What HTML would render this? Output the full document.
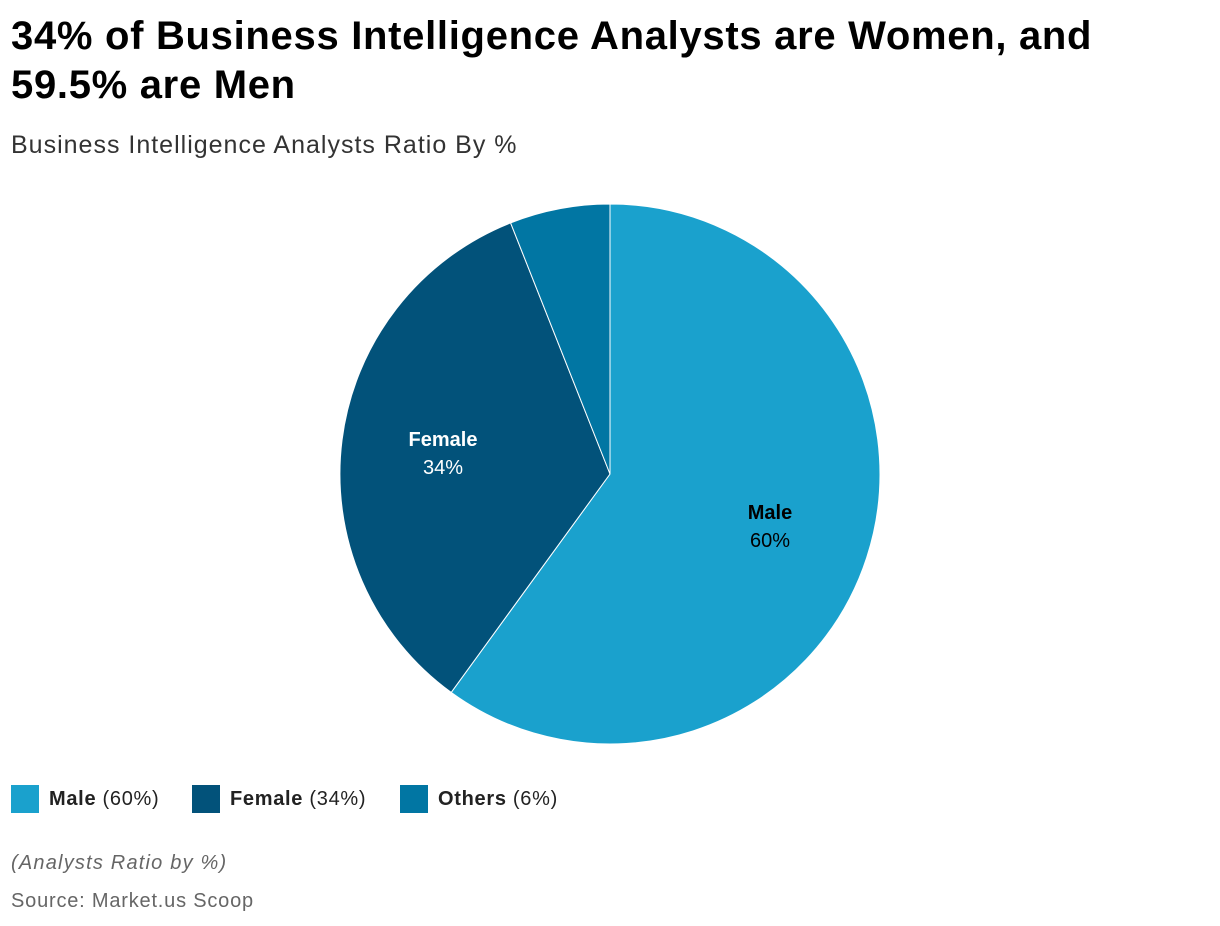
<!DOCTYPE html>
<html><head><style>
body{margin:0;background:#fff;width:1220px;height:926px;overflow:hidden;font-family:"Liberation Sans",Arial,sans-serif;position:relative}
.t{position:absolute;left:11px;top:12px;font-size:40px;font-weight:bold;line-height:49px;color:#000;letter-spacing:0.7px;white-space:nowrap}
.s{position:absolute;left:11px;top:131px;font-size:25px;color:#333;letter-spacing:1px}
.lg{position:absolute;top:785px;font-size:20px;color:#222;display:flex;align-items:center;letter-spacing:0.7px;white-space:nowrap}
.sw{width:28px;height:28px;margin-right:10px;display:inline-block}
.f1{position:absolute;left:11px;top:852px;font-size:20px;font-style:italic;color:#666;letter-spacing:1.2px}
.f2{position:absolute;left:11px;top:890px;font-size:20px;color:#666;letter-spacing:0.8px}
</style></head><body>
<div class="t">34% of Business Intelligence Analysts are Women, and<br>59.5% are Men</div>
<div class="s">Business Intelligence Analysts Ratio By %</div>
<svg width="1220" height="926" style="position:absolute;left:0;top:0">
<path d="M610,474 L610,204 A270,270 0 1 1 451.2,692.4 Z" fill="#1aa1cd" stroke="#fff" stroke-width="1"/>
<path d="M610,474 L451.2,692.4 A270,270 0 0 1 510.6,222.9 Z" fill="#02527a" stroke="#fff" stroke-width="1"/>
<path d="M610,474 L510.6,222.9 A270,270 0 0 1 610,204 Z" fill="#0176a3" stroke="#fff" stroke-width="1"/>
<text x="443" y="446" text-anchor="middle" font-size="20" font-weight="bold" fill="#fff">Female</text>
<text x="443" y="474" text-anchor="middle" font-size="20" fill="#fff">34%</text>
<text x="770" y="519" text-anchor="middle" font-size="20" font-weight="bold" fill="#000">Male</text>
<text x="770" y="547" text-anchor="middle" font-size="20" fill="#000">60%</text>
</svg>
<div class="lg" style="left:11px"><span class="sw" style="background:#1aa1cd"></span><b>Male</b>&nbsp;(60%)</div>
<div class="lg" style="left:192px"><span class="sw" style="background:#02527a"></span><b>Female</b>&nbsp;(34%)</div>
<div class="lg" style="left:400px"><span class="sw" style="background:#0176a3"></span><b>Others</b>&nbsp;(6%)</div>
<div class="f1">(Analysts Ratio by %)</div>
<div class="f2">Source: Market.us Scoop</div>
</body></html>
